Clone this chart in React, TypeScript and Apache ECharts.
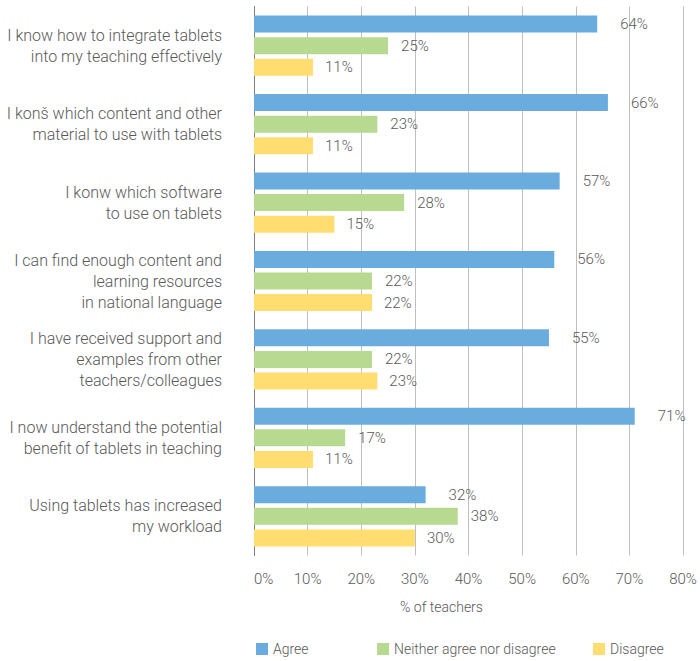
import React, { useEffect, useRef } from "react";
import * as echarts from "echarts";

const categories = [
  "I know how to integrate tablets\ninto my teaching effectively",
  "I konš which content and other\nmaterial to use with tablets",
  "I konw which software\nto use on tablets",
  "I can find enough content and\nlearning resources\nin national language",
  "I have received support and\nexamples from other\nteachers/colleagues",
  "I now understand the potential\nbenefit of tablets in teaching",
  "Using tablets has increased\nmy workload",
];
const agree = [64, 66, 57, 56, 55, 71, 32];
const neither = [25, 23, 28, 22, 22, 17, 38];
const disagree = [11, 11, 15, 22, 23, 11, 30];
const seriesNames = ["Agree", "Neither agree nor disagree", "Disagree"];
const xTicks = { min: 0, max: 80, interval: 10 };
const axisTitle = "% of teachers";

const COLORS = ["#6BACDE", "#B7D990", "#FFDD71"];
const TEXT = "#595959";
const FONT = "Roboto";
const W = 300;

export default function App() {
  const ref = useRef<HTMLDivElement>(null);
  useEffect(() => {
    document.body.style.margin = "0";
    const chart = echarts.init(ref.current!, undefined, { renderer: "svg" });
    const values = [agree, neither, disagree];
    const distances = [23, 13, 12];
    const legendLefts = [256, 377, 593];
    chart.setOption({
      animation: false,
      textStyle: { fontFamily: FONT, fontWeight: W },
      grid: { left: 254, right: 17, top: 6.5, height: 549 },
      legend: seriesNames.map((n, i) => ({
        data: [n],
        left: legendLefts[i],
        top: 642,
        padding: 0,
        itemWidth: 12,
        itemHeight: 12,
        icon: "rect",
        textStyle: { color: TEXT, fontSize: 14, fontFamily: FONT, fontWeight: W },
      })),
      xAxis: {
        type: "value",
        min: xTicks.min,
        max: xTicks.max,
        interval: xTicks.interval,
        name: axisTitle,
        nameLocation: "middle",
        nameGap: 44,
        nameTextStyle: { color: TEXT, fontSize: 14, fontFamily: FONT, fontWeight: W, padding: [0, 54, 0, 0] },
        axisLine: { show: false },
        axisTick: { show: false },
        axisLabel: {
          formatter: "{value}%",
          color: TEXT,
          fontSize: 15,
          fontWeight: W,
          margin: 16,
          alignMinLabel: "left",
        },
        splitLine: { show: true, lineStyle: { color: "#BFBFBF", width: 1 } },
      },
      yAxis: {
        type: "category",
        data: categories,
        inverse: true,
        axisLine: { show: true, lineStyle: { color: "#7F7F7F", width: 1 } },
        axisTick: { show: false },
        axisLabel: {
          color: TEXT,
          fontSize: 16,
          fontWeight: W,
          lineHeight: 21,
          margin: 32,
          align: "right",
        },
      },
      series: values.map((v, i) => ({
        type: "bar",
        name: seriesNames[i],
        data: v,
        barWidth: 17,
        barGap: "27%",
        itemStyle: { color: COLORS[i] },
        label: {
          show: true,
          position: "right",
          distance: distances[i],
          formatter: "{c}%",
          color: TEXT,
          fontSize: 15,
          fontWeight: W,
          fontFamily: FONT,
        },
      })),
    });
    return () => chart.dispose();
  }, []);
  return <div ref={ref} style={{ width: 700, height: 661 }} />;
}
